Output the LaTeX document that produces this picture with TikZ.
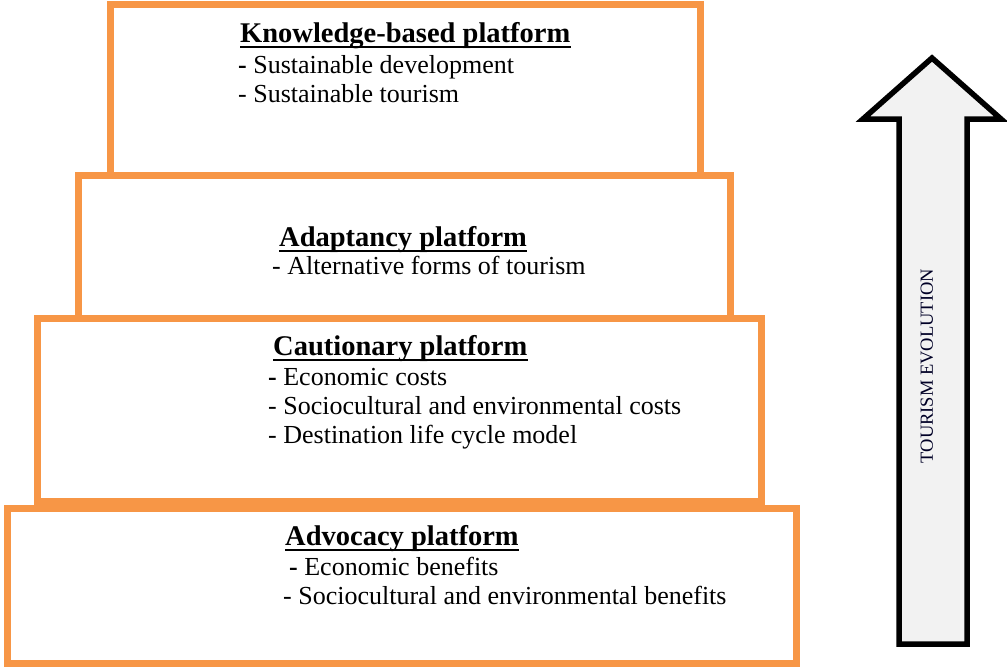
\documentclass[tikz,border=0pt]{standalone}
\usepackage{fontspec}
\setmainfont{Liberation Serif}
\definecolor{platorange}{HTML}{F79646}
\definecolor{arrowfill}{HTML}{F2F2F2}
\begin{document}
\begin{tikzpicture}[x=1pt,y=-1pt,
  platbox/.style={draw=platorange,line width=7pt},
  ttl/.style={anchor=base west,inner sep=0pt,font=\fontsize{28.5}{32}\selectfont\bfseries},
  itm/.style={anchor=base west,inner sep=0pt,font=\fontsize{26}{29.5}\selectfont},
  uline/.style={line width=2.6pt},
  bigarrow/.style={draw=black,line width=5.5pt,fill=arrowfill,line join=miter}]
\useasboundingbox (0,0) rectangle (1007,667);
% platforms
\draw[platbox] (110,4.5) rectangle (700.5,175);
\draw[platbox] (78,175.5) rectangle (730,318);
\draw[platbox] (37,318) rectangle (761,501);
\draw[platbox] (7,508) rectangle (796.5,663.5);
% knowledge-based
\node[ttl] (t1) at (240,42) {Knowledge-based platform};
\draw[uline] ([yshift=-5pt]t1.base west) -- ([yshift=-5pt]t1.base east);
\node[itm] (k1) at (238,73) {\textbf{-} Sustainable development};
\node[itm] (k2) at (238,102) {- Sustainable tourism};
% adaptancy
\node[ttl] (t2) at (279,246) {Adaptancy platform};
\draw[uline] ([yshift=-5pt]t2.base west) -- ([yshift=-5pt]t2.base east);
\node[itm] (a1) at (272,274) {- Alternative forms of tourism};
% cautionary
\node[ttl] (t3) at (273,355) {Cautionary platform};
\draw[uline] ([yshift=-5pt]t3.base west) -- ([yshift=-5pt]t3.base east);
\node[itm] (c1) at (268,385) {\textbf{-} Economic costs};
\node[itm] (c2) at (268,414) {- Sociocultural and environmental costs};
\node[itm] (c3) at (268,443) {- Destination life cycle model};
% advocacy
\node[ttl] (t4) at (285,545) {Advocacy platform};
\draw[uline] ([yshift=-5pt]t4.base west) -- ([yshift=-5pt]t4.base east);
\node[itm] (v1) at (289,575) {\textbf{-} Economic benefits};
\node[itm] (v2) at (283,604) {- Sociocultural and environmental benefits};
% arrow
\draw[bigarrow] (932,58) -- (1001,119) -- (967,119) -- (967,644) -- (899,644) -- (899,119) -- (863,119) -- cycle;
\node[rotate=90,inner sep=0pt,font=\fontsize{18.5}{20}\selectfont,text=black!85!blue] (evo) at (927,366) {TOURISM EVOLUTION};
\end{tikzpicture}
\end{document}
